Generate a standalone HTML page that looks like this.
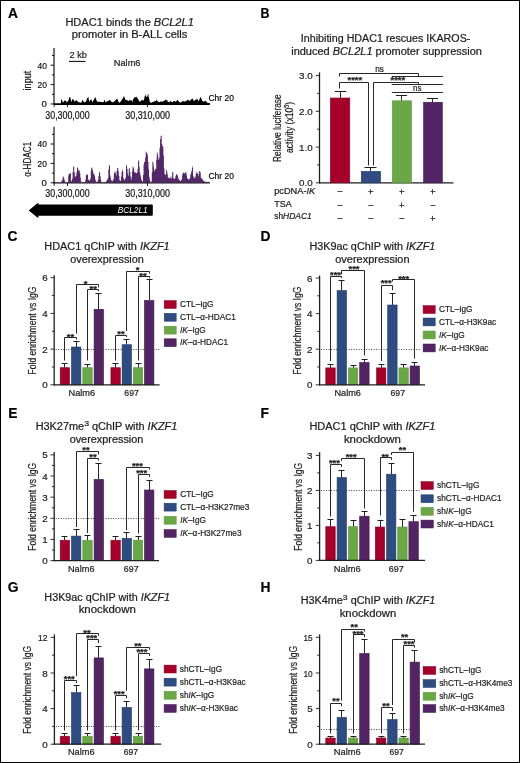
<!DOCTYPE html>
<html><head><meta charset="utf-8"><style>
html,body{margin:0;padding:0;background:#fff;}
svg{display:block;will-change:transform;}
text{font-family:"Liberation Sans", sans-serif;stroke:#1e1e1e;stroke-width:0.22px;}
text.w{stroke:none;}
</style></head><body>
<svg width="520" height="763" viewBox="0 0 520 763" font-family='"Liberation Sans", sans-serif' fill="#1e1e1e">
<rect x="0" y="0" width="520" height="763" fill="#fff"/>
<rect x="0.50" y="0.50" width="519.00" height="762.00" fill="none" stroke="#000" stroke-width="1"/>
<text x="7.90" y="18.20" font-size="13.8" font-weight="bold" fill="#000">A</text>
<text x="260.60" y="18.10" font-size="13.8" font-weight="bold" textLength="9.00" lengthAdjust="spacingAndGlyphs" fill="#000">B</text>
<text x="7.60" y="240.80" font-size="13.8" font-weight="bold" fill="#000">C</text>
<text x="260.40" y="240.80" font-size="13.8" font-weight="bold" fill="#000">D</text>
<text x="8.30" y="418.10" font-size="13.8" font-weight="bold" fill="#000">E</text>
<text x="260.40" y="418.10" font-size="13.8" font-weight="bold" fill="#000">F</text>
<text x="7.70" y="591.70" font-size="13.8" font-weight="bold" fill="#000">G</text>
<text x="260.40" y="592.20" font-size="13.8" font-weight="bold" fill="#000">H</text>
<text x="65.40" y="26.20" font-size="10" textLength="128.40" lengthAdjust="spacingAndGlyphs">HDAC1 binds the <tspan font-style="italic">BCL2L1</tspan></text>
<text x="71.80" y="38.40" font-size="10" textLength="115.60" lengthAdjust="spacingAndGlyphs">promoter in B-ALL cells</text>
<text x="300.80" y="41.50" font-size="10" textLength="169.60" lengthAdjust="spacingAndGlyphs">Inhibiting HDAC1 rescues IKAROS-</text>
<text x="291.20" y="54.70" font-size="10" textLength="190.80" lengthAdjust="spacingAndGlyphs">induced <tspan font-style="italic">BCL2L1</tspan> promoter suppression</text>
<text x="44.35" y="249.60" font-size="10" textLength="125.30" lengthAdjust="spacingAndGlyphs">HDAC1 qChIP with <tspan font-style="italic">IKZF1</tspan></text>
<text x="70.20" y="262.50" font-size="10" textLength="73.60" lengthAdjust="spacingAndGlyphs">overexpression</text>
<text x="309.45" y="249.60" font-size="10" textLength="125.90" lengthAdjust="spacingAndGlyphs">H3K9ac qChIP with <tspan font-style="italic">IKZF1</tspan></text>
<text x="335.25" y="262.50" font-size="10" textLength="74.30" lengthAdjust="spacingAndGlyphs">overexpression</text>
<text x="35.65" y="430.00" font-size="10" textLength="141.70" lengthAdjust="spacingAndGlyphs">H3K27me<tspan font-size="8" dy="-4.2">3</tspan><tspan dy="4.2"> qChIP with </tspan><tspan font-style="italic">IKZF1</tspan></text>
<text x="69.65" y="442.50" font-size="10" textLength="73.70" lengthAdjust="spacingAndGlyphs">overexpression</text>
<text x="309.45" y="430.00" font-size="10" textLength="125.90" lengthAdjust="spacingAndGlyphs">HDAC1 qChIP with <tspan font-style="italic">IKZF1</tspan></text>
<text x="343.90" y="442.50" font-size="10" textLength="57.00" lengthAdjust="spacingAndGlyphs">knockdown</text>
<text x="44.35" y="600.80" font-size="10" textLength="125.70" lengthAdjust="spacingAndGlyphs">H3K9ac qChIP with <tspan font-style="italic">IKZF1</tspan></text>
<text x="78.65" y="613.20" font-size="10" textLength="57.10" lengthAdjust="spacingAndGlyphs">knockdown</text>
<text x="300.70" y="604.40" font-size="10" textLength="134.60" lengthAdjust="spacingAndGlyphs">H3K4me<tspan font-size="8" dy="-4.2">3</tspan><tspan dy="4.2"> qChIP with </tspan><tspan font-style="italic">IKZF1</tspan></text>
<text x="339.70" y="616.70" font-size="10" textLength="56.60" lengthAdjust="spacingAndGlyphs">knockdown</text>
<path d="M60.50,104.20 L60.50,103.52 L61.00,103.52 L61.00,99.86 L61.50,99.86 L61.50,99.54 L62.00,99.54 L62.00,100.69 L62.50,100.69 L62.50,102.07 L63.00,102.07 L63.00,102.37 L63.50,102.37 L63.50,101.64 L64.00,101.64 L64.00,100.53 L64.50,100.53 L64.50,101.12 L65.00,101.12 L65.00,100.99 L65.50,100.99 L65.50,100.31 L66.00,100.31 L66.00,101.44 L66.50,101.44 L66.50,102.26 L67.00,102.26 L67.00,101.73 L67.50,101.73 L67.50,101.35 L68.00,101.35 L68.00,100.63 L68.50,100.63 L68.50,99.44 L69.00,99.44 L69.00,97.51 L69.50,97.51 L69.50,97.23 L70.00,97.23 L70.00,97.59 L70.50,97.59 L70.50,99.51 L71.00,99.51 L71.00,101.69 L71.50,101.69 L71.50,100.74 L72.00,100.74 L72.00,99.40 L72.50,99.40 L72.50,99.19 L73.00,99.19 L73.00,99.14 L73.50,99.14 L73.50,100.30 L74.00,100.30 L74.00,101.01 L74.50,101.01 L74.50,101.61 L75.00,101.61 L75.00,101.10 L75.50,101.10 L75.50,100.42 L76.00,100.42 L76.00,100.49 L76.50,100.49 L76.50,100.15 L77.00,100.15 L77.00,100.90 L77.50,100.90 L77.50,101.44 L78.00,101.44 L78.00,102.17 L78.50,102.17 L78.50,102.27 L79.00,102.27 L79.00,102.14 L79.50,102.14 L79.50,102.27 L80.00,102.27 L80.00,102.40 L80.50,102.40 L80.50,102.70 L81.00,102.70 L81.00,102.66 L81.50,102.66 L81.50,101.87 L82.00,101.87 L82.00,99.90 L82.50,99.90 L82.50,100.48 L83.00,100.48 L83.00,101.10 L83.50,101.10 L83.50,101.72 L84.00,101.72 L84.00,102.36 L84.50,102.36 L84.50,102.16 L85.00,102.16 L85.00,102.07 L85.50,102.07 L85.50,101.80 L86.00,101.80 L86.00,100.77 L86.50,100.77 L86.50,99.47 L87.00,99.47 L87.00,98.36 L87.50,98.36 L87.50,97.77 L88.00,97.77 L88.00,97.06 L88.50,97.06 L88.50,99.22 L89.00,99.22 L89.00,101.81 L89.50,101.81 L89.50,100.96 L90.00,100.96 L90.00,99.89 L90.50,99.89 L90.50,99.82 L91.00,99.82 L91.00,99.58 L91.50,99.58 L91.50,100.58 L92.00,100.58 L92.00,101.45 L92.50,101.45 L92.50,102.15 L93.00,102.15 L93.00,100.73 L93.50,100.73 L93.50,99.96 L94.00,99.96 L94.00,99.29 L94.50,99.29 L94.50,97.50 L95.00,97.50 L95.00,97.18 L95.50,97.18 L95.50,98.39 L96.00,98.39 L96.00,99.87 L96.50,99.87 L96.50,100.84 L97.00,100.84 L97.00,101.81 L97.50,101.81 L97.50,101.85 L98.00,101.85 L98.00,101.52 L98.50,101.52 L98.50,101.79 L99.00,101.79 L99.00,101.63 L99.50,101.63 L99.50,101.95 L100.00,101.95 L100.00,101.86 L100.50,101.86 L100.50,102.12 L101.00,102.12 L101.00,102.15 L101.50,102.15 L101.50,101.98 L102.00,101.98 L102.00,102.16 L102.50,102.16 L102.50,101.91 L103.00,101.91 L103.00,101.83 L103.50,101.83 L103.50,102.02 L104.00,102.02 L104.00,100.34 L104.50,100.34 L104.50,100.34 L105.00,100.34 L105.00,101.81 L105.50,101.81 L105.50,101.94 L106.00,101.94 L106.00,101.67 L106.50,101.67 L106.50,101.53 L107.00,101.53 L107.00,101.56 L107.50,101.56 L107.50,100.95 L108.00,100.95 L108.00,100.96 L108.50,100.96 L108.50,100.60 L109.00,100.60 L109.00,99.94 L109.50,99.94 L109.50,100.06 L110.00,100.06 L110.00,100.56 L110.50,100.56 L110.50,101.08 L111.00,101.08 L111.00,101.51 L111.50,101.51 L111.50,101.96 L112.00,101.96 L112.00,102.37 L112.50,102.37 L112.50,102.28 L113.00,102.28 L113.00,101.93 L113.50,101.93 L113.50,101.70 L114.00,101.70 L114.00,101.47 L114.50,101.47 L114.50,100.86 L115.00,100.86 L115.00,100.51 L115.50,100.51 L115.50,100.26 L116.00,100.26 L116.00,99.22 L116.50,99.22 L116.50,98.97 L117.00,98.97 L117.00,98.71 L117.50,98.71 L117.50,99.92 L118.00,99.92 L118.00,101.55 L118.50,101.55 L118.50,101.99 L119.00,101.99 L119.00,102.43 L119.50,102.43 L119.50,102.68 L120.00,102.68 L120.00,102.05 L120.50,102.05 L120.50,101.49 L121.00,101.49 L121.00,100.66 L121.50,100.66 L121.50,100.05 L122.00,100.05 L122.00,98.95 L122.50,98.95 L122.50,98.41 L123.00,98.41 L123.00,97.60 L123.50,97.60 L123.50,96.53 L124.00,96.53 L124.00,96.57 L124.50,96.57 L124.50,98.04 L125.00,98.04 L125.00,99.78 L125.50,99.78 L125.50,99.47 L126.00,99.47 L126.00,99.72 L126.50,99.72 L126.50,99.91 L127.00,99.91 L127.00,100.15 L127.50,100.15 L127.50,100.65 L128.00,100.65 L128.00,101.10 L128.50,101.10 L128.50,100.92 L129.00,100.92 L129.00,100.55 L129.50,100.55 L129.50,99.86 L130.00,99.86 L130.00,99.93 L130.50,99.93 L130.50,100.42 L131.00,100.42 L131.00,100.19 L131.50,100.19 L131.50,101.12 L132.00,101.12 L132.00,101.93 L132.50,101.93 L132.50,100.29 L133.00,100.29 L133.00,98.74 L133.50,98.74 L133.50,98.68 L134.00,98.68 L134.00,97.63 L134.50,97.63 L134.50,97.06 L135.00,97.06 L135.00,97.20 L135.50,97.20 L135.50,97.42 L136.00,97.42 L136.00,96.65 L136.50,96.65 L136.50,97.20 L137.00,97.20 L137.00,97.69 L137.50,97.69 L137.50,98.77 L138.00,98.77 L138.00,99.14 L138.50,99.14 L138.50,100.23 L139.00,100.23 L139.00,101.16 L139.50,101.16 L139.50,101.68 L140.00,101.68 L140.00,101.36 L140.50,101.36 L140.50,101.03 L141.00,101.03 L141.00,100.41 L141.50,100.41 L141.50,99.95 L142.00,99.95 L142.00,99.64 L142.50,99.64 L142.50,100.43 L143.00,100.43 L143.00,100.75 L143.50,100.75 L143.50,99.97 L144.00,99.97 L144.00,98.72 L144.50,98.72 L144.50,96.21 L145.00,96.21 L145.00,94.35 L145.50,94.35 L145.50,96.21 L146.00,96.21 L146.00,96.59 L146.50,96.59 L146.50,96.95 L147.00,96.95 L147.00,96.40 L147.50,96.40 L147.50,94.93 L148.00,94.93 L148.00,93.99 L148.50,93.99 L148.50,96.97 L149.00,96.97 L149.00,99.03 L149.50,99.03 L149.50,101.67 L150.00,101.67 L150.00,102.23 L150.50,102.23 L150.50,102.54 L151.00,102.54 L151.00,102.64 L151.50,102.64 L151.50,102.65 L152.00,102.65 L152.00,102.31 L152.50,102.31 L152.50,101.97 L153.00,101.97 L153.00,101.89 L153.50,101.89 L153.50,101.50 L154.00,101.50 L154.00,101.46 L154.50,101.46 L154.50,101.10 L155.00,101.10 L155.00,101.26 L155.50,101.26 L155.50,101.06 L156.00,101.06 L156.00,100.19 L156.50,100.19 L156.50,100.07 L157.00,100.07 L157.00,100.81 L157.50,100.81 L157.50,101.52 L158.00,101.52 L158.00,101.85 L158.50,101.85 L158.50,101.97 L159.00,101.97 L159.00,102.20 L159.50,102.20 L159.50,102.09 L160.00,102.09 L160.00,101.68 L160.50,101.68 L160.50,101.54 L161.00,101.54 L161.00,101.30 L161.50,101.30 L161.50,101.65 L162.00,101.65 L162.00,101.45 L162.50,101.45 L162.50,101.70 L163.00,101.70 L163.00,101.28 L163.50,101.28 L163.50,101.07 L164.00,101.07 L164.00,100.76 L164.50,100.76 L164.50,100.53 L165.00,100.53 L165.00,100.08 L165.50,100.08 L165.50,99.55 L166.00,99.55 L166.00,100.17 L166.50,100.17 L166.50,99.90 L167.00,99.90 L167.00,100.22 L167.50,100.22 L167.50,101.67 L168.00,101.67 L168.00,101.99 L168.50,101.99 L168.50,101.95 L169.00,101.95 L169.00,102.14 L169.50,102.14 L169.50,101.83 L170.00,101.83 L170.00,101.33 L170.50,101.33 L170.50,100.97 L171.00,100.97 L171.00,101.63 L171.50,101.63 L171.50,101.84 L172.00,101.84 L172.00,102.31 L172.50,102.31 L172.50,101.88 L173.00,101.88 L173.00,101.46 L173.50,101.46 L173.50,101.25 L174.00,101.25 L174.00,101.27 L174.50,101.27 L174.50,101.07 L175.00,101.07 L175.00,101.48 L175.50,101.48 L175.50,101.52 L176.00,101.52 L176.00,101.13 L176.50,101.13 L176.50,100.80 L177.00,100.80 L177.00,99.95 L177.50,99.95 L177.50,100.11 L178.00,100.11 L178.00,100.99 L178.50,100.99 L178.50,101.37 L179.00,101.37 L179.00,101.88 L179.50,101.88 L179.50,102.14 L180.00,102.14 L180.00,102.46 L180.50,102.46 L180.50,102.49 L181.00,102.49 L181.00,102.13 L181.50,102.13 L181.50,101.87 L182.00,101.87 L182.00,101.20 L182.50,101.20 L182.50,101.22 L183.00,101.22 L183.00,101.26 L183.50,101.26 L183.50,101.26 L184.00,101.26 L184.00,101.23 L184.50,101.23 L184.50,101.64 L185.00,101.64 L185.00,101.58 L185.50,101.58 L185.50,101.07 L186.00,101.07 L186.00,100.95 L186.50,100.95 L186.50,100.52 L187.00,100.52 L187.00,100.19 L187.50,100.19 L187.50,99.89 L188.00,99.89 L188.00,99.78 L188.50,99.78 L188.50,100.13 L189.00,100.13 L189.00,100.71 L189.50,100.71 L189.50,101.21 L190.00,101.21 L190.00,100.56 L190.50,100.56 L190.50,99.71 L191.00,99.71 L191.00,99.32 L191.50,99.32 L191.50,99.23 L192.00,99.23 L192.00,98.76 L192.50,98.76 L192.50,98.68 L193.00,98.68 L193.00,99.78 L193.50,99.78 L193.50,100.89 L194.00,100.89 L194.00,100.72 L194.50,100.72 L194.50,100.41 L195.00,100.41 L195.00,99.71 L195.50,99.71 L195.50,99.76 L196.00,99.76 L196.00,99.53 L196.50,99.53 L196.50,99.29 L197.00,99.29 L197.00,99.15 L197.50,99.15 L197.50,99.56 L198.00,99.56 L198.00,100.40 L198.50,100.40 L198.50,100.94 L199.00,100.94 L199.00,100.05 L199.50,100.05 L199.50,98.62 L200.00,98.62 L200.00,97.11 L200.50,97.11 L200.50,97.80 L201.00,97.80 L201.00,98.50 L201.50,98.50 L201.50,99.58 L202.00,99.58 L202.00,101.04 L202.50,101.04 L202.50,101.11 L203.00,101.11 L203.00,101.41 L203.50,101.41 L203.50,101.50 L204.00,101.50 L204.00,101.32 L204.50,101.32 L204.50,101.52 L205.00,101.52 L205.00,101.17 L205.50,101.17 L205.50,100.58 L206.00,100.58 L206.00,101.40 L206.50,101.40 L206.50,102.10 L207.00,102.10 L207.00,102.76 L207.50,102.76 L207.50,102.83 L208.00,102.83 L208.00,102.98 L208.50,102.98 L208.50,103.05 L209.00,103.05 L209.00,103.03 L209.50,103.03 L209.50,104.20 Z" stroke="none" stroke-width="0" fill="#000" />
<line x1="53.90" y1="104.10" x2="209.80" y2="104.10" stroke="#000" stroke-width="1.6" />
<path d="M60.50,182.60 L60.50,182.40 L61.05,182.40 L61.05,181.76 L61.60,181.76 L61.60,180.86 L62.15,180.86 L62.15,179.41 L62.70,179.41 L62.70,177.05 L63.25,177.05 L63.25,176.32 L63.80,176.32 L63.80,178.44 L64.35,178.44 L64.35,180.17 L64.90,180.17 L64.90,182.18 L65.45,182.18 L65.45,182.34 L66.00,182.34 L66.00,182.37 L66.55,182.37 L66.55,182.41 L67.10,182.41 L67.10,182.45 L67.65,182.45 L67.65,182.49 L68.20,182.49 L68.20,175.53 L68.75,175.53 L68.75,173.46 L69.30,173.46 L69.30,174.10 L69.85,174.10 L69.85,173.30 L70.40,173.30 L70.40,173.13 L70.95,173.13 L70.95,181.57 L71.50,181.57 L71.50,180.57 L72.05,180.57 L72.05,178.71 L72.60,178.71 L72.60,172.01 L73.15,172.01 L73.15,166.41 L73.70,166.41 L73.70,166.66 L74.25,166.66 L74.25,172.45 L74.80,172.45 L74.80,176.46 L75.35,176.46 L75.35,176.66 L75.90,176.66 L75.90,175.38 L76.45,175.38 L76.45,171.95 L77.00,171.95 L77.00,167.93 L77.55,167.93 L77.55,167.18 L78.10,167.18 L78.10,170.03 L78.65,170.03 L78.65,170.70 L79.20,170.70 L79.20,170.36 L79.75,170.36 L79.75,172.91 L80.30,172.91 L80.30,177.62 L80.85,177.62 L80.85,181.51 L81.40,181.51 L81.40,182.13 L81.95,182.13 L81.95,182.30 L82.50,182.30 L82.50,182.29 L83.05,182.29 L83.05,182.28 L83.60,182.28 L83.60,182.27 L84.15,182.27 L84.15,182.24 L84.70,182.24 L84.70,182.22 L85.25,182.22 L85.25,179.90 L85.80,179.90 L85.80,175.54 L86.35,175.54 L86.35,174.62 L86.90,174.62 L86.90,174.28 L87.45,174.28 L87.45,174.91 L88.00,174.91 L88.00,179.13 L88.55,179.13 L88.55,180.07 L89.10,180.07 L89.10,180.75 L89.65,180.75 L89.65,179.89 L90.20,179.89 L90.20,178.43 L90.75,178.43 L90.75,170.75 L91.30,170.75 L91.30,167.80 L91.85,167.80 L91.85,167.50 L92.40,167.50 L92.40,169.64 L92.95,169.64 L92.95,172.60 L93.50,172.60 L93.50,173.95 L94.05,173.95 L94.05,174.38 L94.60,174.38 L94.60,176.19 L95.15,176.19 L95.15,179.52 L95.70,179.52 L95.70,181.33 L96.25,181.33 L96.25,181.96 L96.80,181.96 L96.80,182.39 L97.35,182.39 L97.35,181.18 L97.90,181.18 L97.90,179.57 L98.45,179.57 L98.45,175.73 L99.00,175.73 L99.00,172.55 L99.55,172.55 L99.55,171.85 L100.10,171.85 L100.10,176.25 L100.65,176.25 L100.65,179.77 L101.20,179.77 L101.20,182.13 L101.75,182.13 L101.75,182.23 L102.30,182.23 L102.30,182.25 L102.85,182.25 L102.85,182.21 L103.40,182.21 L103.40,182.23 L103.95,182.23 L103.95,182.22 L104.50,182.22 L104.50,182.24 L105.05,182.24 L105.05,182.23 L105.60,182.23 L105.60,182.21 L106.15,182.21 L106.15,181.05 L106.70,181.05 L106.70,180.08 L107.25,180.08 L107.25,179.42 L107.80,179.42 L107.80,177.67 L108.35,177.67 L108.35,169.60 L108.90,169.60 L108.90,165.38 L109.45,165.38 L109.45,165.30 L110.00,165.30 L110.00,175.58 L110.55,175.58 L110.55,178.49 L111.10,178.49 L111.10,180.50 L111.65,180.50 L111.65,180.77 L112.20,180.77 L112.20,181.21 L112.75,181.21 L112.75,180.20 L113.30,180.20 L113.30,178.97 L113.85,178.97 L113.85,173.38 L114.40,173.38 L114.40,171.96 L114.95,171.96 L114.95,171.53 L115.50,171.53 L115.50,173.48 L116.05,173.48 L116.05,175.54 L116.60,175.54 L116.60,170.45 L117.15,170.45 L117.15,167.92 L117.70,167.92 L117.70,168.36 L118.25,168.36 L118.25,171.49 L118.80,171.49 L118.80,176.00 L119.35,176.00 L119.35,180.15 L119.90,180.15 L119.90,180.64 L120.45,180.64 L120.45,180.74 L121.00,180.74 L121.00,176.55 L121.55,176.55 L121.55,172.02 L122.10,172.02 L122.10,169.59 L122.65,169.59 L122.65,171.24 L123.20,171.24 L123.20,178.03 L123.75,178.03 L123.75,179.31 L124.30,179.31 L124.30,180.39 L124.85,180.39 L124.85,178.99 L125.40,178.99 L125.40,177.58 L125.95,177.58 L125.95,164.76 L126.50,164.76 L126.50,166.11 L127.05,166.11 L127.05,169.11 L127.60,169.11 L127.60,173.83 L128.15,173.83 L128.15,175.75 L128.70,175.75 L128.70,168.55 L129.25,168.55 L129.25,168.26 L129.80,168.26 L129.80,171.97 L130.35,171.97 L130.35,176.39 L130.90,176.39 L130.90,180.10 L131.45,180.10 L131.45,176.91 L132.00,176.91 L132.00,171.30 L132.55,171.30 L132.55,166.39 L133.10,166.39 L133.10,167.20 L133.65,167.20 L133.65,168.46 L134.20,168.46 L134.20,172.62 L134.75,172.62 L134.75,171.95 L135.30,171.95 L135.30,172.51 L135.85,172.51 L135.85,173.60 L136.40,173.60 L136.40,173.04 L136.95,173.04 L136.95,172.23 L137.50,172.23 L137.50,168.66 L138.05,168.66 L138.05,160.08 L138.60,160.08 L138.60,161.43 L139.15,161.43 L139.15,166.87 L139.70,166.87 L139.70,172.42 L140.25,172.42 L140.25,175.32 L140.80,175.32 L140.80,177.72 L141.35,177.72 L141.35,180.01 L141.90,180.01 L141.90,181.09 L142.45,181.09 L142.45,181.79 L143.00,181.79 L143.00,174.96 L143.55,174.96 L143.55,164.51 L144.10,164.51 L144.10,161.95 L144.65,161.95 L144.65,161.52 L145.20,161.52 L145.20,157.61 L145.75,157.61 L145.75,151.55 L146.30,151.55 L146.30,152.59 L146.85,152.59 L146.85,153.23 L147.40,153.23 L147.40,155.22 L147.95,155.22 L147.95,161.69 L148.50,161.69 L148.50,169.26 L149.05,169.26 L149.05,176.83 L149.60,176.83 L149.60,179.47 L150.15,179.47 L150.15,181.70 L150.70,181.70 L150.70,181.78 L151.25,181.78 L151.25,181.84 L151.80,181.84 L151.80,172.15 L152.35,172.15 L152.35,161.69 L152.90,161.69 L152.90,162.42 L153.45,162.42 L153.45,166.59 L154.00,166.59 L154.00,170.84 L154.55,170.84 L154.55,170.45 L155.10,170.45 L155.10,168.68 L155.65,168.68 L155.65,169.21 L156.20,169.21 L156.20,159.63 L156.75,159.63 L156.75,153.82 L157.30,153.82 L157.30,152.56 L157.85,152.56 L157.85,156.56 L158.40,156.56 L158.40,160.10 L158.95,160.10 L158.95,158.31 L159.50,158.31 L159.50,148.27 L160.05,148.27 L160.05,139.00 L160.60,139.00 L160.60,135.89 L161.15,135.89 L161.15,135.51 L161.70,135.51 L161.70,143.98 L162.25,143.98 L162.25,145.93 L162.80,145.93 L162.80,146.66 L163.35,146.66 L163.35,155.57 L163.90,155.57 L163.90,168.26 L164.45,168.26 L164.45,173.84 L165.00,173.84 L165.00,175.02 L165.55,175.02 L165.55,174.48 L166.10,174.48 L166.10,169.26 L166.65,169.26 L166.65,170.95 L167.20,170.95 L167.20,173.82 L167.75,173.82 L167.75,177.53 L168.30,177.53 L168.30,177.75 L168.85,177.75 L168.85,178.23 L169.40,178.23 L169.40,178.15 L169.95,178.15 L169.95,176.94 L170.50,176.94 L170.50,178.07 L171.05,178.07 L171.05,178.83 L171.60,178.83 L171.60,176.38 L172.15,176.38 L172.15,172.04 L172.70,172.04 L172.70,172.25 L173.25,172.25 L173.25,178.17 L173.80,178.17 L173.80,178.55 L174.35,178.55 L174.35,179.23 L174.90,179.23 L174.90,178.12 L175.45,178.12 L175.45,175.91 L176.00,175.91 L176.00,174.62 L176.55,174.62 L176.55,174.14 L177.10,174.14 L177.10,174.84 L177.65,174.84 L177.65,176.14 L178.20,176.14 L178.20,178.40 L178.75,178.40 L178.75,179.46 L179.30,179.46 L179.30,180.10 L179.85,180.10 L179.85,180.66 L180.40,180.66 L180.40,180.92 L180.95,180.92 L180.95,180.13 L181.50,180.13 L181.50,179.28 L182.05,179.28 L182.05,175.37 L182.60,175.37 L182.60,172.98 L183.15,172.98 L183.15,172.67 L183.70,172.67 L183.70,172.55 L184.25,172.55 L184.25,173.67 L184.80,173.67 L184.80,172.73 L185.35,172.73 L185.35,172.76 L185.90,172.76 L185.90,172.01 L186.45,172.01 L186.45,175.17 L187.00,175.17 L187.00,177.98 L187.55,177.98 L187.55,178.63 L188.10,178.63 L188.10,179.40 L188.65,179.40 L188.65,179.30 L189.20,179.30 L189.20,179.13 L189.75,179.13 L189.75,177.68 L190.30,177.68 L190.30,174.43 L190.85,174.43 L190.85,172.65 L191.40,172.65 L191.40,170.69 L191.95,170.69 L191.95,166.12 L192.50,166.12 L192.50,167.97 L193.05,167.97 L193.05,175.83 L193.60,175.83 L193.60,177.46 L194.15,177.46 L194.15,178.16 L194.70,178.16 L194.70,177.72 L195.25,177.72 L195.25,176.49 L195.80,176.49 L195.80,173.52 L196.35,173.52 L196.35,171.66 L196.90,171.66 L196.90,172.44 L197.45,172.44 L197.45,173.79 L198.00,173.79 L198.00,176.22 L198.55,176.22 L198.55,173.40 L199.10,173.40 L199.10,170.99 L199.65,170.99 L199.65,171.11 L200.20,171.11 L200.20,172.65 L200.75,172.65 L200.75,177.99 L201.30,177.99 L201.30,178.36 L201.85,178.36 L201.85,178.57 L202.40,178.57 L202.40,179.64 L202.95,179.64 L202.95,180.53 L203.50,180.53 L203.50,180.87 L204.05,180.87 L204.05,181.25 L204.60,181.25 L204.60,181.55 L205.15,181.55 L205.15,181.68 L205.70,181.68 L205.70,181.88 L206.25,181.88 L206.25,181.87 L206.80,181.87 L206.80,181.81 L207.35,181.81 L207.35,181.88 L207.90,181.88 L207.90,181.86 L208.45,181.86 L208.45,181.89 L209.00,181.89 L209.00,181.87 L209.55,181.87 L209.50,182.60 Z" stroke="none" stroke-width="0" fill="#532768" />
<line x1="53.90" y1="182.80" x2="209.80" y2="182.80" stroke="#1a0f1f" stroke-width="1.3" />
<line x1="54.00" y1="48.00" x2="54.00" y2="104.60" stroke="#000" stroke-width="1.1" />
<line x1="50.60" y1="104.00" x2="54.00" y2="104.00" stroke="#000" stroke-width="0.9" />
<line x1="52.00" y1="94.30" x2="54.00" y2="94.30" stroke="#000" stroke-width="0.9" />
<line x1="50.60" y1="84.60" x2="54.00" y2="84.60" stroke="#000" stroke-width="0.9" />
<line x1="52.00" y1="74.90" x2="54.00" y2="74.90" stroke="#000" stroke-width="0.9" />
<line x1="50.60" y1="65.20" x2="54.00" y2="65.20" stroke="#000" stroke-width="0.9" />
<line x1="52.00" y1="55.50" x2="54.00" y2="55.50" stroke="#000" stroke-width="0.9" />
<text x="46.90" y="107.40" font-size="9.6" text-anchor="end" fill="#111">0</text>
<text x="37.50" y="88.00" font-size="9.6" textLength="9.40" lengthAdjust="spacingAndGlyphs" fill="#111">20</text>
<text x="37.50" y="68.60" font-size="9.6" textLength="9.40" lengthAdjust="spacingAndGlyphs" fill="#111">40</text>
<line x1="54.20" y1="104.00" x2="54.20" y2="107.20" stroke="#000" stroke-width="0.8" />
<line x1="67.50" y1="104.00" x2="67.50" y2="107.20" stroke="#000" stroke-width="0.8" />
<line x1="147.50" y1="104.00" x2="147.50" y2="107.20" stroke="#000" stroke-width="0.8" />
<text x="208.50" y="100.80" font-size="9.1" textLength="25.40" lengthAdjust="spacingAndGlyphs" fill="#000">Chr 20</text>
<text x="45.30" y="118.60" font-size="10.0" textLength="44.30" lengthAdjust="spacingAndGlyphs" fill="#111">30,300,000</text>
<text x="125.20" y="118.60" font-size="10.0" textLength="44.80" lengthAdjust="spacingAndGlyphs" fill="#111">30,310,000</text>
<line x1="54.00" y1="126.80" x2="54.00" y2="183.40" stroke="#000" stroke-width="1.1" />
<line x1="50.60" y1="182.80" x2="54.00" y2="182.80" stroke="#000" stroke-width="0.9" />
<line x1="52.00" y1="173.10" x2="54.00" y2="173.10" stroke="#000" stroke-width="0.9" />
<line x1="50.60" y1="163.40" x2="54.00" y2="163.40" stroke="#000" stroke-width="0.9" />
<line x1="52.00" y1="153.70" x2="54.00" y2="153.70" stroke="#000" stroke-width="0.9" />
<line x1="50.60" y1="144.00" x2="54.00" y2="144.00" stroke="#000" stroke-width="0.9" />
<line x1="52.00" y1="134.30" x2="54.00" y2="134.30" stroke="#000" stroke-width="0.9" />
<text x="46.90" y="186.20" font-size="9.6" text-anchor="end" fill="#111">0</text>
<text x="37.50" y="166.80" font-size="9.6" textLength="9.40" lengthAdjust="spacingAndGlyphs" fill="#111">20</text>
<text x="37.50" y="147.40" font-size="9.6" textLength="9.40" lengthAdjust="spacingAndGlyphs" fill="#111">40</text>
<line x1="54.20" y1="182.80" x2="54.20" y2="186.00" stroke="#000" stroke-width="0.8" />
<line x1="67.50" y1="182.80" x2="67.50" y2="186.00" stroke="#000" stroke-width="0.8" />
<line x1="147.50" y1="182.80" x2="147.50" y2="186.00" stroke="#000" stroke-width="0.8" />
<text x="208.50" y="178.50" font-size="9.1" textLength="25.40" lengthAdjust="spacingAndGlyphs" fill="#000">Chr 20</text>
<text x="45.30" y="197.40" font-size="10.0" textLength="44.30" lengthAdjust="spacingAndGlyphs" fill="#111">30,300,000</text>
<text x="125.20" y="197.40" font-size="10.0" textLength="44.80" lengthAdjust="spacingAndGlyphs" fill="#111">30,310,000</text>
<text x="30.70" y="80.60" font-size="10" text-anchor="middle" textLength="19.60" lengthAdjust="spacingAndGlyphs" fill="#222" transform="rotate(-90 30.70 80.60)">input</text>
<text x="31.30" y="159.30" font-size="10.8" text-anchor="middle" textLength="35.00" lengthAdjust="spacingAndGlyphs" fill="#222" transform="rotate(-90 31.30 159.30)">&#945;-HDAC1</text>
<text x="69.60" y="58.30" font-size="9.0" textLength="17.30" lengthAdjust="spacingAndGlyphs">2 kb</text>
<line x1="69.00" y1="61.40" x2="85.40" y2="61.40" stroke="#000" stroke-width="1.0" />
<text x="113.80" y="65.80" font-size="9.0" textLength="26.70" lengthAdjust="spacingAndGlyphs">Nalm6</text>
<path d="M28.7,210.4 L37.4,203.3 Q38.4,202.6 38.4,203.8 L38.4,204.6 L151.8,204.6 Q152.8,204.6 152.8,205.6 L152.8,214.8 Q152.8,215.8 151.8,215.8 L38.4,215.8 L38.4,217.0 Q38.4,218.2 37.4,217.5 Z" stroke="none" stroke-width="0" fill="#000" />
<text class="w" x="117.70" y="212.80" font-size="9.0" font-style="italic" textLength="30.00" lengthAdjust="spacingAndGlyphs" fill="#fff">BCL2L1</text>
<line x1="319.50" y1="72.40" x2="319.50" y2="183.40" stroke="#1e1e1e" stroke-width="1.3" />
<line x1="315.70" y1="182.80" x2="319.50" y2="182.80" stroke="#1e1e1e" stroke-width="0.9" />
<text x="312.60" y="186.30" font-size="9.8" text-anchor="end">0.0</text>
<line x1="315.70" y1="147.05" x2="319.50" y2="147.05" stroke="#1e1e1e" stroke-width="0.9" />
<text x="312.60" y="150.55" font-size="9.8" text-anchor="end">1.0</text>
<line x1="315.70" y1="111.30" x2="319.50" y2="111.30" stroke="#1e1e1e" stroke-width="0.9" />
<text x="312.60" y="114.80" font-size="9.8" text-anchor="end">2.0</text>
<line x1="315.70" y1="75.55" x2="319.50" y2="75.55" stroke="#1e1e1e" stroke-width="0.9" />
<text x="312.60" y="79.05" font-size="9.8" text-anchor="end">3.0</text>
<line x1="317.10" y1="164.93" x2="319.50" y2="164.93" stroke="#1e1e1e" stroke-width="0.9" />
<line x1="317.10" y1="129.18" x2="319.50" y2="129.18" stroke="#1e1e1e" stroke-width="0.9" />
<line x1="317.10" y1="93.43" x2="319.50" y2="93.43" stroke="#1e1e1e" stroke-width="0.9" />
<line x1="319.00" y1="182.80" x2="453.50" y2="182.80" stroke="#1e1e1e" stroke-width="1.3" />
<line x1="340.50" y1="98.00" x2="340.50" y2="91.80" stroke="#1e1e1e" stroke-width="0.95" />
<line x1="334.75" y1="91.50" x2="346.25" y2="91.50" stroke="#1e1e1e" stroke-width="1.0" />
<rect x="330.30" y="98.00" width="19.50" height="84.80" fill="#a5002b" stroke="#8e0026" stroke-width="0.6"/>
<line x1="370.50" y1="171.40" x2="370.50" y2="167.00" stroke="#1e1e1e" stroke-width="0.95" />
<line x1="364.50" y1="167.50" x2="376.50" y2="167.50" stroke="#1e1e1e" stroke-width="1.0" />
<rect x="361.30" y="171.40" width="19.30" height="11.40" fill="#2e4c7f" stroke="#1f3a70" stroke-width="0.6"/>
<line x1="401.50" y1="100.80" x2="401.50" y2="95.00" stroke="#1e1e1e" stroke-width="0.95" />
<line x1="395.90" y1="95.50" x2="407.10" y2="95.50" stroke="#1e1e1e" stroke-width="1.0" />
<rect x="392.30" y="100.80" width="19.20" height="82.00" fill="#6ba746" stroke="#5a9a37" stroke-width="0.6"/>
<line x1="432.50" y1="102.30" x2="432.50" y2="98.80" stroke="#1e1e1e" stroke-width="0.95" />
<line x1="427.00" y1="98.50" x2="438.00" y2="98.50" stroke="#1e1e1e" stroke-width="1.0" />
<rect x="423.60" y="102.30" width="18.70" height="80.50" fill="#532463" stroke="#40164f" stroke-width="0.6"/>
<path d="M339.5,76.5 L339.5,73.5 L418.5,73.5 L418.5,76.5" stroke="#1e1e1e" stroke-width="0.95" fill="none" />
<text x="379.60" y="72.00" font-size="8.6" text-anchor="middle" textLength="8.60" lengthAdjust="spacingAndGlyphs">ns</text>
<line x1="391.80" y1="76.50" x2="443.00" y2="76.50" stroke="#1e1e1e" stroke-width="0.95" />
<path d="M339.5,88.5 L339.5,82.5 L368.5,82.5 L368.5,165.5" stroke="#1e1e1e" stroke-width="0.95" fill="none" />
<path d="M373.5,165.5 L373.5,82.5 L418.5,82.5 L418.5,84.6" stroke="#1e1e1e" stroke-width="0.95" fill="none" />
<line x1="391.80" y1="84.50" x2="443.00" y2="84.50" stroke="#1e1e1e" stroke-width="0.95" />
<line x1="391.80" y1="92.50" x2="443.00" y2="92.50" stroke="#1e1e1e" stroke-width="0.95" />
<text x="417.20" y="90.60" font-size="8.6" text-anchor="middle" textLength="8.40" lengthAdjust="spacingAndGlyphs">ns</text>
<text x="281.40" y="128.20" font-size="11.8" text-anchor="middle" textLength="67.40" lengthAdjust="spacingAndGlyphs" transform="rotate(-90 281.40 128.20)">Relative luciferase</text>
<text x="292.90" y="127.40" font-size="11.8" text-anchor="middle" textLength="51.30" lengthAdjust="spacingAndGlyphs" transform="rotate(-90 292.90 127.40)">activity (x10<tspan font-size="7.5" dy="-4">5</tspan><tspan dy="4">)</tspan></text>
<text x="274.20" y="193.80" font-size="8.7" textLength="41.00" lengthAdjust="spacingAndGlyphs">pcDNA-<tspan font-style="italic">IK</tspan></text>
<text x="274.20" y="206.60" font-size="8.7" textLength="17.50" lengthAdjust="spacingAndGlyphs">TSA</text>
<text x="274.20" y="219.40" font-size="8.7" textLength="37.50" lengthAdjust="spacingAndGlyphs">sh<tspan font-style="italic">HDAC1</tspan></text>
<line x1="337.60" y1="191.50" x2="342.60" y2="191.50" stroke="#333" stroke-width="0.9" />
<line x1="368.40" y1="191.50" x2="373.40" y2="191.50" stroke="#333" stroke-width="0.9" />
<line x1="370.50" y1="189.20" x2="370.50" y2="194.20" stroke="#333" stroke-width="0.9" />
<line x1="399.40" y1="191.50" x2="404.40" y2="191.50" stroke="#333" stroke-width="0.9" />
<line x1="401.50" y1="189.20" x2="401.50" y2="194.20" stroke="#333" stroke-width="0.9" />
<line x1="430.40" y1="191.50" x2="435.40" y2="191.50" stroke="#333" stroke-width="0.9" />
<line x1="432.50" y1="189.20" x2="432.50" y2="194.20" stroke="#333" stroke-width="0.9" />
<line x1="337.60" y1="205.50" x2="342.60" y2="205.50" stroke="#333" stroke-width="0.9" />
<line x1="368.40" y1="205.50" x2="373.40" y2="205.50" stroke="#333" stroke-width="0.9" />
<line x1="399.40" y1="205.50" x2="404.40" y2="205.50" stroke="#333" stroke-width="0.9" />
<line x1="401.50" y1="202.50" x2="401.50" y2="207.50" stroke="#333" stroke-width="0.9" />
<line x1="430.40" y1="205.50" x2="435.40" y2="205.50" stroke="#333" stroke-width="0.9" />
<line x1="337.60" y1="218.50" x2="342.60" y2="218.50" stroke="#333" stroke-width="0.9" />
<line x1="368.40" y1="218.50" x2="373.40" y2="218.50" stroke="#333" stroke-width="0.9" />
<line x1="399.40" y1="218.50" x2="404.40" y2="218.50" stroke="#333" stroke-width="0.9" />
<line x1="430.40" y1="218.50" x2="435.40" y2="218.50" stroke="#333" stroke-width="0.9" />
<line x1="432.50" y1="215.90" x2="432.50" y2="220.90" stroke="#333" stroke-width="0.9" />
<text x="354.80" y="83.26" font-size="8.2" text-anchor="middle" font-weight="bold" textLength="14.60" lengthAdjust="spacingAndGlyphs">****</text>
<text x="397.80" y="83.26" font-size="8.2" text-anchor="middle" font-weight="bold" textLength="14.60" lengthAdjust="spacingAndGlyphs">****</text>
<line x1="55.70" y1="349.50" x2="159.50" y2="349.50" stroke="#444" stroke-width="1.0" stroke-dasharray="1.0 1.5"/>
<line x1="64.50" y1="367.70" x2="64.50" y2="363.80" stroke="#1e1e1e" stroke-width="0.95" />
<line x1="61.50" y1="363.50" x2="67.50" y2="363.50" stroke="#1e1e1e" stroke-width="1.0" />
<rect x="60.20" y="367.70" width="9.40" height="17.10" fill="#a5002b" stroke="#8e0026" stroke-width="0.6"/>
<line x1="76.50" y1="347.00" x2="76.50" y2="341.50" stroke="#1e1e1e" stroke-width="0.95" />
<line x1="73.50" y1="341.50" x2="79.50" y2="341.50" stroke="#1e1e1e" stroke-width="1.0" />
<rect x="71.50" y="347.00" width="9.40" height="37.80" fill="#2e4c7f" stroke="#1f3a70" stroke-width="0.6"/>
<line x1="87.50" y1="367.70" x2="87.50" y2="364.00" stroke="#1e1e1e" stroke-width="0.95" />
<line x1="84.50" y1="364.50" x2="90.50" y2="364.50" stroke="#1e1e1e" stroke-width="1.0" />
<rect x="82.80" y="367.70" width="9.40" height="17.10" fill="#6ba746" stroke="#5a9a37" stroke-width="0.6"/>
<line x1="98.50" y1="309.30" x2="98.50" y2="293.70" stroke="#1e1e1e" stroke-width="0.95" />
<line x1="95.50" y1="293.50" x2="101.50" y2="293.50" stroke="#1e1e1e" stroke-width="1.0" />
<rect x="94.10" y="309.30" width="9.40" height="75.50" fill="#532463" stroke="#40164f" stroke-width="0.6"/>
<line x1="115.50" y1="367.70" x2="115.50" y2="363.70" stroke="#1e1e1e" stroke-width="0.95" />
<line x1="112.50" y1="363.50" x2="118.50" y2="363.50" stroke="#1e1e1e" stroke-width="1.0" />
<rect x="110.90" y="367.70" width="9.40" height="17.10" fill="#a5002b" stroke="#8e0026" stroke-width="0.6"/>
<line x1="126.50" y1="344.70" x2="126.50" y2="339.40" stroke="#1e1e1e" stroke-width="0.95" />
<line x1="123.50" y1="339.50" x2="129.50" y2="339.50" stroke="#1e1e1e" stroke-width="1.0" />
<rect x="122.10" y="344.70" width="9.40" height="40.10" fill="#2e4c7f" stroke="#1f3a70" stroke-width="0.6"/>
<line x1="138.50" y1="367.70" x2="138.50" y2="363.80" stroke="#1e1e1e" stroke-width="0.95" />
<line x1="135.50" y1="363.50" x2="141.50" y2="363.50" stroke="#1e1e1e" stroke-width="1.0" />
<rect x="133.30" y="367.70" width="9.40" height="17.10" fill="#6ba746" stroke="#5a9a37" stroke-width="0.6"/>
<line x1="149.50" y1="300.50" x2="149.50" y2="279.90" stroke="#1e1e1e" stroke-width="0.95" />
<line x1="146.50" y1="279.50" x2="152.50" y2="279.50" stroke="#1e1e1e" stroke-width="1.0" />
<rect x="144.50" y="300.50" width="9.40" height="84.30" fill="#532463" stroke="#40164f" stroke-width="0.6"/>
<line x1="54.20" y1="275.20" x2="54.20" y2="385.40" stroke="#1e1e1e" stroke-width="1.3" />
<line x1="50.40" y1="384.80" x2="54.20" y2="384.80" stroke="#1e1e1e" stroke-width="0.9" />
<text x="47.60" y="388.30" font-size="9.8" text-anchor="end">0</text>
<line x1="50.40" y1="349.10" x2="54.20" y2="349.10" stroke="#1e1e1e" stroke-width="0.9" />
<text x="47.60" y="352.60" font-size="9.8" text-anchor="end">2</text>
<line x1="50.40" y1="313.40" x2="54.20" y2="313.40" stroke="#1e1e1e" stroke-width="0.9" />
<text x="47.60" y="316.90" font-size="9.8" text-anchor="end">4</text>
<line x1="50.40" y1="277.70" x2="54.20" y2="277.70" stroke="#1e1e1e" stroke-width="0.9" />
<text x="47.60" y="281.20" font-size="9.8" text-anchor="end">6</text>
<line x1="51.80" y1="366.95" x2="54.20" y2="366.95" stroke="#1e1e1e" stroke-width="0.9" />
<line x1="51.80" y1="331.25" x2="54.20" y2="331.25" stroke="#1e1e1e" stroke-width="0.9" />
<line x1="51.80" y1="295.55" x2="54.20" y2="295.55" stroke="#1e1e1e" stroke-width="0.9" />
<line x1="53.70" y1="384.80" x2="159.60" y2="384.80" stroke="#1e1e1e" stroke-width="1.2" />
<text x="36.00" y="330.50" font-size="11.3" text-anchor="middle" textLength="87.80" lengthAdjust="spacingAndGlyphs" transform="rotate(-90 36.00 330.50)">Fold enrichment vs IgG</text>
<path d="M64.50,360.50 L64.50,337.50 L76.50,337.50 L76.50,339.50" stroke="#1e1e1e" stroke-width="0.95" fill="none" />
<text x="70.40" y="339.76" font-size="8.2" text-anchor="middle" font-weight="bold" textLength="7.30" lengthAdjust="spacingAndGlyphs">**</text>
<path d="M76.50,333.50 L76.50,284.50 L98.50,284.50 L98.50,287.50" stroke="#1e1e1e" stroke-width="0.95" fill="none" />
<text x="85.60" y="286.86" font-size="8.2" text-anchor="middle" font-weight="bold" textLength="3.65" lengthAdjust="spacingAndGlyphs">*</text>
<path d="M87.50,360.50 L87.50,289.50 L98.50,289.50 L98.50,291.30" stroke="#1e1e1e" stroke-width="0.95" fill="none" />
<text x="93.20" y="292.16" font-size="8.2" text-anchor="middle" font-weight="bold" textLength="7.30" lengthAdjust="spacingAndGlyphs">**</text>
<path d="M115.50,360.50 L115.50,335.50 L126.50,335.50 L126.50,337.00" stroke="#1e1e1e" stroke-width="0.95" fill="none" />
<text x="121.00" y="337.36" font-size="8.2" text-anchor="middle" font-weight="bold" textLength="7.30" lengthAdjust="spacingAndGlyphs">**</text>
<path d="M126.50,331.00 L126.50,271.50 L149.50,271.50 L149.50,273.70" stroke="#1e1e1e" stroke-width="0.95" fill="none" />
<text x="137.60" y="273.36" font-size="8.2" text-anchor="middle" font-weight="bold" textLength="3.65" lengthAdjust="spacingAndGlyphs">*</text>
<path d="M138.50,360.50 L138.50,276.50 L149.50,276.50 L149.50,278.30" stroke="#1e1e1e" stroke-width="0.95" fill="none" />
<text x="143.00" y="278.86" font-size="8.2" text-anchor="middle" font-weight="bold" textLength="7.30" lengthAdjust="spacingAndGlyphs">**</text>
<rect x="164.20" y="300.60" width="12.00" height="7.90" fill="#a5002b" stroke="#8e0026" stroke-width="0.5"/>
<text x="180.00" y="307.20" font-size="9.8" textLength="33.56" lengthAdjust="spacingAndGlyphs">CTL&#8211;IgG</text>
<rect x="164.20" y="313.30" width="12.00" height="7.90" fill="#2e4c7f" stroke="#1f3a70" stroke-width="0.5"/>
<text x="180.00" y="319.90" font-size="9.8" textLength="55.80" lengthAdjust="spacingAndGlyphs">CTL&#8211;&#945;-HDAC1</text>
<rect x="164.20" y="326.20" width="12.00" height="7.90" fill="#6ba746" stroke="#5a9a37" stroke-width="0.5"/>
<text x="180.00" y="332.80" font-size="9.8" textLength="25.75" lengthAdjust="spacingAndGlyphs"><tspan font-style="italic">IK</tspan>&#8211;IgG</text>
<rect x="164.20" y="338.80" width="12.00" height="7.90" fill="#532463" stroke="#40164f" stroke-width="0.5"/>
<text x="180.00" y="345.40" font-size="9.8" textLength="47.99" lengthAdjust="spacingAndGlyphs"><tspan font-style="italic">IK</tspan>&#8211;&#945;-HDAC1</text>
<text x="68.50" y="395.90" font-size="9.5" textLength="26.60" lengthAdjust="spacingAndGlyphs">Nalm6</text>
<text x="124.30" y="395.90" font-size="9.5" textLength="14.60" lengthAdjust="spacingAndGlyphs">697</text>
<line x1="321.10" y1="349.50" x2="420.50" y2="349.50" stroke="#444" stroke-width="1.0" stroke-dasharray="1.0 1.5"/>
<line x1="330.50" y1="367.90" x2="330.50" y2="364.60" stroke="#1e1e1e" stroke-width="0.95" />
<line x1="327.50" y1="364.50" x2="333.50" y2="364.50" stroke="#1e1e1e" stroke-width="1.0" />
<rect x="325.80" y="367.90" width="9.40" height="16.90" fill="#a5002b" stroke="#8e0026" stroke-width="0.6"/>
<line x1="341.50" y1="290.60" x2="341.50" y2="280.80" stroke="#1e1e1e" stroke-width="0.95" />
<line x1="338.50" y1="280.50" x2="344.50" y2="280.50" stroke="#1e1e1e" stroke-width="1.0" />
<rect x="337.10" y="290.60" width="9.40" height="94.20" fill="#2e4c7f" stroke="#1f3a70" stroke-width="0.6"/>
<line x1="353.50" y1="367.90" x2="353.50" y2="365.20" stroke="#1e1e1e" stroke-width="0.95" />
<line x1="350.50" y1="365.50" x2="356.50" y2="365.50" stroke="#1e1e1e" stroke-width="1.0" />
<rect x="348.40" y="367.90" width="9.40" height="16.90" fill="#6ba746" stroke="#5a9a37" stroke-width="0.6"/>
<line x1="364.50" y1="362.50" x2="364.50" y2="359.20" stroke="#1e1e1e" stroke-width="0.95" />
<line x1="361.50" y1="359.50" x2="367.50" y2="359.50" stroke="#1e1e1e" stroke-width="1.0" />
<rect x="359.70" y="362.50" width="9.40" height="22.30" fill="#532463" stroke="#40164f" stroke-width="0.6"/>
<line x1="381.50" y1="367.90" x2="381.50" y2="364.60" stroke="#1e1e1e" stroke-width="0.95" />
<line x1="378.50" y1="364.50" x2="384.50" y2="364.50" stroke="#1e1e1e" stroke-width="1.0" />
<rect x="376.50" y="367.90" width="9.40" height="16.90" fill="#a5002b" stroke="#8e0026" stroke-width="0.6"/>
<line x1="392.50" y1="305.00" x2="392.50" y2="293.70" stroke="#1e1e1e" stroke-width="0.95" />
<line x1="389.50" y1="293.50" x2="395.50" y2="293.50" stroke="#1e1e1e" stroke-width="1.0" />
<rect x="387.70" y="305.00" width="9.40" height="79.80" fill="#2e4c7f" stroke="#1f3a70" stroke-width="0.6"/>
<line x1="403.50" y1="367.90" x2="403.50" y2="364.60" stroke="#1e1e1e" stroke-width="0.95" />
<line x1="400.50" y1="364.50" x2="406.50" y2="364.50" stroke="#1e1e1e" stroke-width="1.0" />
<rect x="398.90" y="367.90" width="9.40" height="16.90" fill="#6ba746" stroke="#5a9a37" stroke-width="0.6"/>
<line x1="414.50" y1="366.00" x2="414.50" y2="362.50" stroke="#1e1e1e" stroke-width="0.95" />
<line x1="411.50" y1="362.50" x2="417.50" y2="362.50" stroke="#1e1e1e" stroke-width="1.0" />
<rect x="410.10" y="366.00" width="9.40" height="18.80" fill="#532463" stroke="#40164f" stroke-width="0.6"/>
<line x1="319.60" y1="275.50" x2="319.60" y2="385.40" stroke="#1e1e1e" stroke-width="1.3" />
<line x1="315.80" y1="384.80" x2="319.60" y2="384.80" stroke="#1e1e1e" stroke-width="0.9" />
<text x="312.50" y="388.30" font-size="9.8" text-anchor="end">0</text>
<line x1="315.80" y1="349.20" x2="319.60" y2="349.20" stroke="#1e1e1e" stroke-width="0.9" />
<text x="312.50" y="352.70" font-size="9.8" text-anchor="end">2</text>
<line x1="315.80" y1="313.60" x2="319.60" y2="313.60" stroke="#1e1e1e" stroke-width="0.9" />
<text x="312.50" y="317.10" font-size="9.8" text-anchor="end">4</text>
<line x1="315.80" y1="278.00" x2="319.60" y2="278.00" stroke="#1e1e1e" stroke-width="0.9" />
<text x="312.50" y="281.50" font-size="9.8" text-anchor="end">6</text>
<line x1="317.20" y1="367.00" x2="319.60" y2="367.00" stroke="#1e1e1e" stroke-width="0.9" />
<line x1="317.20" y1="331.40" x2="319.60" y2="331.40" stroke="#1e1e1e" stroke-width="0.9" />
<line x1="317.20" y1="295.80" x2="319.60" y2="295.80" stroke="#1e1e1e" stroke-width="0.9" />
<line x1="319.10" y1="384.80" x2="425.00" y2="384.80" stroke="#1e1e1e" stroke-width="1.2" />
<text x="301.50" y="330.65" font-size="11.3" text-anchor="middle" textLength="87.80" lengthAdjust="spacingAndGlyphs" transform="rotate(-90 301.50 330.65)">Fold enrichment vs IgG</text>
<path d="M330.50,361.00 L330.50,276.50 L341.50,276.50 L341.50,278.20" stroke="#1e1e1e" stroke-width="0.95" fill="none" />
<text x="335.50" y="277.66" font-size="8.2" text-anchor="middle" font-weight="bold" textLength="10.95" lengthAdjust="spacingAndGlyphs">***</text>
<path d="M341.50,274.50 L341.50,270.50 L364.50,270.50 L364.50,355.50" stroke="#1e1e1e" stroke-width="0.95" fill="none" />
<text x="354.00" y="272.16" font-size="8.2" text-anchor="middle" font-weight="bold" textLength="10.95" lengthAdjust="spacingAndGlyphs">***</text>
<path d="M381.50,361.00 L381.50,285.50 L392.50,285.50 L392.50,290.20" stroke="#1e1e1e" stroke-width="0.95" fill="none" />
<text x="386.20" y="286.16" font-size="8.2" text-anchor="middle" font-weight="bold" textLength="10.95" lengthAdjust="spacingAndGlyphs">***</text>
<path d="M392.50,281.50 L392.50,279.50 L414.50,279.50 L414.50,358.50" stroke="#1e1e1e" stroke-width="0.95" fill="none" />
<text x="403.60" y="281.56" font-size="8.2" text-anchor="middle" font-weight="bold" textLength="10.95" lengthAdjust="spacingAndGlyphs">***</text>
<rect x="423.10" y="305.60" width="12.10" height="7.90" fill="#a5002b" stroke="#8e0026" stroke-width="0.5"/>
<text x="439.00" y="312.20" font-size="9.8" textLength="33.56" lengthAdjust="spacingAndGlyphs">CTL&#8211;IgG</text>
<rect x="423.10" y="318.00" width="12.10" height="7.90" fill="#2e4c7f" stroke="#1f3a70" stroke-width="0.5"/>
<text x="439.00" y="324.60" font-size="9.8" textLength="57.18" lengthAdjust="spacingAndGlyphs">CTL&#8211;&#945;-H3K9ac</text>
<rect x="423.10" y="331.00" width="12.10" height="7.90" fill="#6ba746" stroke="#5a9a37" stroke-width="0.5"/>
<text x="439.00" y="337.60" font-size="9.8" textLength="25.75" lengthAdjust="spacingAndGlyphs"><tspan font-style="italic">IK</tspan>&#8211;IgG</text>
<rect x="423.10" y="344.00" width="12.10" height="7.90" fill="#532463" stroke="#40164f" stroke-width="0.5"/>
<text x="439.00" y="350.60" font-size="9.8" textLength="49.37" lengthAdjust="spacingAndGlyphs"><tspan font-style="italic">IK</tspan>&#8211;&#945;-H3K9ac</text>
<text x="334.50" y="396.30" font-size="9.5" textLength="26.40" lengthAdjust="spacingAndGlyphs">Nalm6</text>
<text x="390.50" y="396.30" font-size="9.5" textLength="14.50" lengthAdjust="spacingAndGlyphs">697</text>
<line x1="55.70" y1="518.50" x2="159.50" y2="518.50" stroke="#444" stroke-width="1.0" stroke-dasharray="1.0 1.5"/>
<line x1="64.50" y1="540.20" x2="64.50" y2="536.40" stroke="#1e1e1e" stroke-width="0.95" />
<line x1="61.50" y1="536.50" x2="67.50" y2="536.50" stroke="#1e1e1e" stroke-width="1.0" />
<rect x="60.20" y="540.20" width="9.40" height="20.40" fill="#a5002b" stroke="#8e0026" stroke-width="0.6"/>
<line x1="76.50" y1="536.10" x2="76.50" y2="529.70" stroke="#1e1e1e" stroke-width="0.95" />
<line x1="73.50" y1="529.50" x2="79.50" y2="529.50" stroke="#1e1e1e" stroke-width="1.0" />
<rect x="71.50" y="536.10" width="9.40" height="24.50" fill="#2e4c7f" stroke="#1f3a70" stroke-width="0.6"/>
<line x1="87.50" y1="540.20" x2="87.50" y2="535.60" stroke="#1e1e1e" stroke-width="0.95" />
<line x1="84.50" y1="535.50" x2="90.50" y2="535.50" stroke="#1e1e1e" stroke-width="1.0" />
<rect x="82.80" y="540.20" width="9.40" height="20.40" fill="#6ba746" stroke="#5a9a37" stroke-width="0.6"/>
<line x1="98.50" y1="479.40" x2="98.50" y2="463.50" stroke="#1e1e1e" stroke-width="0.95" />
<line x1="95.50" y1="463.50" x2="101.50" y2="463.50" stroke="#1e1e1e" stroke-width="1.0" />
<rect x="94.10" y="479.40" width="9.40" height="81.20" fill="#532463" stroke="#40164f" stroke-width="0.6"/>
<line x1="115.50" y1="540.20" x2="115.50" y2="536.40" stroke="#1e1e1e" stroke-width="0.95" />
<line x1="112.50" y1="536.50" x2="118.50" y2="536.50" stroke="#1e1e1e" stroke-width="1.0" />
<rect x="110.90" y="540.20" width="9.40" height="20.40" fill="#a5002b" stroke="#8e0026" stroke-width="0.6"/>
<line x1="126.50" y1="538.30" x2="126.50" y2="532.90" stroke="#1e1e1e" stroke-width="0.95" />
<line x1="123.50" y1="532.50" x2="129.50" y2="532.50" stroke="#1e1e1e" stroke-width="1.0" />
<rect x="122.10" y="538.30" width="9.40" height="22.30" fill="#2e4c7f" stroke="#1f3a70" stroke-width="0.6"/>
<line x1="138.50" y1="540.20" x2="138.50" y2="536.00" stroke="#1e1e1e" stroke-width="0.95" />
<line x1="135.50" y1="536.50" x2="141.50" y2="536.50" stroke="#1e1e1e" stroke-width="1.0" />
<rect x="133.30" y="540.20" width="9.40" height="20.40" fill="#6ba746" stroke="#5a9a37" stroke-width="0.6"/>
<line x1="149.50" y1="490.00" x2="149.50" y2="480.40" stroke="#1e1e1e" stroke-width="0.95" />
<line x1="146.50" y1="480.50" x2="152.50" y2="480.50" stroke="#1e1e1e" stroke-width="1.0" />
<rect x="144.50" y="490.00" width="9.40" height="70.60" fill="#532463" stroke="#40164f" stroke-width="0.6"/>
<line x1="54.20" y1="452.00" x2="54.20" y2="561.20" stroke="#1e1e1e" stroke-width="1.3" />
<line x1="50.40" y1="560.60" x2="54.20" y2="560.60" stroke="#1e1e1e" stroke-width="0.9" />
<text x="47.60" y="564.10" font-size="9.8" text-anchor="end">0</text>
<line x1="50.40" y1="539.45" x2="54.20" y2="539.45" stroke="#1e1e1e" stroke-width="0.9" />
<text x="47.60" y="542.95" font-size="9.8" text-anchor="end">1</text>
<line x1="50.40" y1="518.30" x2="54.20" y2="518.30" stroke="#1e1e1e" stroke-width="0.9" />
<text x="47.60" y="521.80" font-size="9.8" text-anchor="end">2</text>
<line x1="50.40" y1="497.15" x2="54.20" y2="497.15" stroke="#1e1e1e" stroke-width="0.9" />
<text x="47.60" y="500.65" font-size="9.8" text-anchor="end">3</text>
<line x1="50.40" y1="476.00" x2="54.20" y2="476.00" stroke="#1e1e1e" stroke-width="0.9" />
<text x="47.60" y="479.50" font-size="9.8" text-anchor="end">4</text>
<line x1="50.40" y1="454.85" x2="54.20" y2="454.85" stroke="#1e1e1e" stroke-width="0.9" />
<text x="47.60" y="458.35" font-size="9.8" text-anchor="end">5</text>
<line x1="51.80" y1="550.02" x2="54.20" y2="550.02" stroke="#1e1e1e" stroke-width="0.9" />
<line x1="51.80" y1="528.88" x2="54.20" y2="528.88" stroke="#1e1e1e" stroke-width="0.9" />
<line x1="51.80" y1="507.73" x2="54.20" y2="507.73" stroke="#1e1e1e" stroke-width="0.9" />
<line x1="51.80" y1="486.58" x2="54.20" y2="486.58" stroke="#1e1e1e" stroke-width="0.9" />
<line x1="51.80" y1="465.43" x2="54.20" y2="465.43" stroke="#1e1e1e" stroke-width="0.9" />
<line x1="53.70" y1="560.60" x2="159.00" y2="560.60" stroke="#1e1e1e" stroke-width="1.2" />
<text x="36.00" y="506.80" font-size="11.3" text-anchor="middle" textLength="87.80" lengthAdjust="spacingAndGlyphs" transform="rotate(-90 36.00 506.80)">Fold enrichment vs IgG</text>
<path d="M76.50,527.00 L76.50,451.50 L98.50,451.50 L98.50,454.40" stroke="#1e1e1e" stroke-width="0.95" fill="none" />
<text x="86.00" y="453.36" font-size="8.2" text-anchor="middle" font-weight="bold" textLength="7.30" lengthAdjust="spacingAndGlyphs">**</text>
<path d="M87.50,533.00 L87.50,458.50 L98.50,458.50 L98.50,460.50" stroke="#1e1e1e" stroke-width="0.95" fill="none" />
<text x="93.00" y="460.06" font-size="8.2" text-anchor="middle" font-weight="bold" textLength="7.30" lengthAdjust="spacingAndGlyphs">**</text>
<path d="M126.50,530.00 L126.50,467.50 L149.50,467.50 L149.50,469.60" stroke="#1e1e1e" stroke-width="0.95" fill="none" />
<text x="137.40" y="469.26" font-size="8.2" text-anchor="middle" font-weight="bold" textLength="10.95" lengthAdjust="spacingAndGlyphs">***</text>
<path d="M138.50,533.50 L138.50,474.50 L149.50,474.50 L149.50,476.80" stroke="#1e1e1e" stroke-width="0.95" fill="none" />
<text x="141.70" y="475.96" font-size="8.2" text-anchor="middle" font-weight="bold" textLength="10.95" lengthAdjust="spacingAndGlyphs">***</text>
<rect x="164.10" y="490.50" width="12.10" height="7.90" fill="#a5002b" stroke="#8e0026" stroke-width="0.5"/>
<text x="180.20" y="497.10" font-size="9.8" textLength="33.56" lengthAdjust="spacingAndGlyphs">CTL&#8211;IgG</text>
<rect x="164.10" y="503.20" width="12.10" height="7.90" fill="#2e4c7f" stroke="#1f3a70" stroke-width="0.5"/>
<text x="180.20" y="509.80" font-size="9.8" textLength="69.14" lengthAdjust="spacingAndGlyphs">CTL&#8211;&#945;-H3K27me3</text>
<rect x="164.10" y="516.30" width="12.10" height="7.90" fill="#6ba746" stroke="#5a9a37" stroke-width="0.5"/>
<text x="180.20" y="522.90" font-size="9.8" textLength="25.75" lengthAdjust="spacingAndGlyphs"><tspan font-style="italic">IK</tspan>&#8211;IgG</text>
<rect x="164.10" y="529.50" width="12.10" height="7.90" fill="#532463" stroke="#40164f" stroke-width="0.5"/>
<text x="180.20" y="536.10" font-size="9.8" textLength="61.32" lengthAdjust="spacingAndGlyphs"><tspan font-style="italic">IK</tspan>&#8211;&#945;-H3K27me3</text>
<text x="68.00" y="571.90" font-size="9.5" textLength="26.50" lengthAdjust="spacingAndGlyphs">Nalm6</text>
<text x="123.80" y="571.90" font-size="9.5" textLength="14.80" lengthAdjust="spacingAndGlyphs">697</text>
<line x1="321.10" y1="490.50" x2="420.50" y2="490.50" stroke="#444" stroke-width="1.0" stroke-dasharray="1.0 1.5"/>
<line x1="330.50" y1="526.70" x2="330.50" y2="519.70" stroke="#1e1e1e" stroke-width="0.95" />
<line x1="327.50" y1="519.50" x2="333.50" y2="519.50" stroke="#1e1e1e" stroke-width="1.0" />
<rect x="325.80" y="526.70" width="9.40" height="33.70" fill="#a5002b" stroke="#8e0026" stroke-width="0.6"/>
<line x1="341.50" y1="477.50" x2="341.50" y2="470.40" stroke="#1e1e1e" stroke-width="0.95" />
<line x1="338.50" y1="470.50" x2="344.50" y2="470.50" stroke="#1e1e1e" stroke-width="1.0" />
<rect x="337.10" y="477.50" width="9.40" height="82.90" fill="#2e4c7f" stroke="#1f3a70" stroke-width="0.6"/>
<line x1="353.50" y1="526.70" x2="353.50" y2="520.20" stroke="#1e1e1e" stroke-width="0.95" />
<line x1="350.50" y1="520.50" x2="356.50" y2="520.50" stroke="#1e1e1e" stroke-width="1.0" />
<rect x="348.40" y="526.70" width="9.40" height="33.70" fill="#6ba746" stroke="#5a9a37" stroke-width="0.6"/>
<line x1="364.50" y1="516.20" x2="364.50" y2="511.60" stroke="#1e1e1e" stroke-width="0.95" />
<line x1="361.50" y1="511.50" x2="367.50" y2="511.50" stroke="#1e1e1e" stroke-width="1.0" />
<rect x="359.70" y="516.20" width="9.40" height="44.20" fill="#532463" stroke="#40164f" stroke-width="0.6"/>
<line x1="380.50" y1="527.00" x2="380.50" y2="520.40" stroke="#1e1e1e" stroke-width="0.95" />
<line x1="377.50" y1="520.50" x2="383.50" y2="520.50" stroke="#1e1e1e" stroke-width="1.0" />
<rect x="375.30" y="527.00" width="9.40" height="33.40" fill="#a5002b" stroke="#8e0026" stroke-width="0.6"/>
<line x1="391.50" y1="474.20" x2="391.50" y2="463.50" stroke="#1e1e1e" stroke-width="0.95" />
<line x1="388.50" y1="463.50" x2="394.50" y2="463.50" stroke="#1e1e1e" stroke-width="1.0" />
<rect x="386.50" y="474.20" width="9.40" height="86.20" fill="#2e4c7f" stroke="#1f3a70" stroke-width="0.6"/>
<line x1="402.50" y1="527.00" x2="402.50" y2="519.60" stroke="#1e1e1e" stroke-width="0.95" />
<line x1="399.50" y1="519.50" x2="405.50" y2="519.50" stroke="#1e1e1e" stroke-width="1.0" />
<rect x="397.70" y="527.00" width="9.40" height="33.40" fill="#6ba746" stroke="#5a9a37" stroke-width="0.6"/>
<line x1="413.50" y1="521.70" x2="413.50" y2="515.70" stroke="#1e1e1e" stroke-width="0.95" />
<line x1="410.50" y1="515.50" x2="416.50" y2="515.50" stroke="#1e1e1e" stroke-width="1.0" />
<rect x="408.90" y="521.70" width="9.40" height="38.70" fill="#532463" stroke="#40164f" stroke-width="0.6"/>
<line x1="319.60" y1="452.10" x2="319.60" y2="561.00" stroke="#1e1e1e" stroke-width="1.3" />
<line x1="315.80" y1="560.40" x2="319.60" y2="560.40" stroke="#1e1e1e" stroke-width="0.9" />
<text x="312.40" y="563.90" font-size="9.8" text-anchor="end">0</text>
<line x1="315.80" y1="525.40" x2="319.60" y2="525.40" stroke="#1e1e1e" stroke-width="0.9" />
<text x="312.40" y="528.90" font-size="9.8" text-anchor="end">1</text>
<line x1="315.80" y1="490.40" x2="319.60" y2="490.40" stroke="#1e1e1e" stroke-width="0.9" />
<text x="312.40" y="493.90" font-size="9.8" text-anchor="end">2</text>
<line x1="315.80" y1="455.40" x2="319.60" y2="455.40" stroke="#1e1e1e" stroke-width="0.9" />
<text x="312.40" y="458.90" font-size="9.8" text-anchor="end">3</text>
<line x1="317.20" y1="542.90" x2="319.60" y2="542.90" stroke="#1e1e1e" stroke-width="0.9" />
<line x1="317.20" y1="507.90" x2="319.60" y2="507.90" stroke="#1e1e1e" stroke-width="0.9" />
<line x1="317.20" y1="472.90" x2="319.60" y2="472.90" stroke="#1e1e1e" stroke-width="0.9" />
<line x1="319.10" y1="560.40" x2="425.00" y2="560.40" stroke="#1e1e1e" stroke-width="1.2" />
<text x="302.30" y="506.75" font-size="11.3" text-anchor="middle" textLength="87.80" lengthAdjust="spacingAndGlyphs" transform="rotate(-90 302.30 506.75)">Fold enrichment vs IgG</text>
<path d="M330.50,516.50 L330.50,464.50 L341.50,464.50 L341.50,466.90" stroke="#1e1e1e" stroke-width="0.95" fill="none" />
<text x="334.40" y="466.16" font-size="8.2" text-anchor="middle" font-weight="bold" textLength="10.95" lengthAdjust="spacingAndGlyphs">***</text>
<path d="M341.50,461.00 L341.50,458.50 L364.50,458.50 L364.50,508.50" stroke="#1e1e1e" stroke-width="0.95" fill="none" />
<text x="351.20" y="459.66" font-size="8.2" text-anchor="middle" font-weight="bold" textLength="10.95" lengthAdjust="spacingAndGlyphs">***</text>
<path d="M380.50,515.50 L380.50,457.50 L391.50,457.50 L391.50,460.00" stroke="#1e1e1e" stroke-width="0.95" fill="none" />
<text x="385.10" y="459.66" font-size="8.2" text-anchor="middle" font-weight="bold" textLength="7.30" lengthAdjust="spacingAndGlyphs">**</text>
<path d="M391.50,455.00 L391.50,452.50 L413.50,452.50 L413.50,511.80" stroke="#1e1e1e" stroke-width="0.95" fill="none" />
<text x="402.40" y="453.36" font-size="8.2" text-anchor="middle" font-weight="bold" textLength="7.30" lengthAdjust="spacingAndGlyphs">**</text>
<rect x="421.00" y="481.60" width="12.30" height="7.90" fill="#a5002b" stroke="#8e0026" stroke-width="0.5"/>
<text x="437.10" y="488.20" font-size="9.8" textLength="42.28" lengthAdjust="spacingAndGlyphs">shCTL&#8211;IgG</text>
<rect x="421.00" y="494.80" width="12.30" height="7.90" fill="#2e4c7f" stroke="#1f3a70" stroke-width="0.5"/>
<text x="437.10" y="501.40" font-size="9.8" textLength="64.52" lengthAdjust="spacingAndGlyphs">shCTL&#8211;&#945;-HDAC1</text>
<rect x="421.00" y="507.40" width="12.30" height="7.90" fill="#6ba746" stroke="#5a9a37" stroke-width="0.5"/>
<text x="437.10" y="514.00" font-size="9.8" textLength="34.49" lengthAdjust="spacingAndGlyphs">sh<tspan font-style="italic">IK</tspan>&#8211;IgG</text>
<rect x="421.00" y="520.10" width="12.30" height="7.90" fill="#532463" stroke="#40164f" stroke-width="0.5"/>
<text x="437.10" y="526.70" font-size="9.8" textLength="56.72" lengthAdjust="spacingAndGlyphs">sh<tspan font-style="italic">IK</tspan>&#8211;&#945;-HDAC1</text>
<text x="333.80" y="571.90" font-size="9.5" textLength="27.00" lengthAdjust="spacingAndGlyphs">Nalm6</text>
<text x="388.80" y="571.90" font-size="9.5" textLength="15.00" lengthAdjust="spacingAndGlyphs">697</text>
<line x1="55.90" y1="726.50" x2="159.50" y2="726.50" stroke="#444" stroke-width="1.0" stroke-dasharray="1.0 1.5"/>
<line x1="64.50" y1="736.20" x2="64.50" y2="733.70" stroke="#1e1e1e" stroke-width="0.95" />
<line x1="61.50" y1="733.50" x2="67.50" y2="733.50" stroke="#1e1e1e" stroke-width="1.0" />
<rect x="60.20" y="736.20" width="9.40" height="8.00" fill="#a5002b" stroke="#8e0026" stroke-width="0.6"/>
<line x1="76.50" y1="692.60" x2="76.50" y2="685.40" stroke="#1e1e1e" stroke-width="0.95" />
<line x1="73.50" y1="685.50" x2="79.50" y2="685.50" stroke="#1e1e1e" stroke-width="1.0" />
<rect x="71.50" y="692.60" width="9.40" height="51.60" fill="#2e4c7f" stroke="#1f3a70" stroke-width="0.6"/>
<line x1="87.50" y1="736.20" x2="87.50" y2="733.70" stroke="#1e1e1e" stroke-width="0.95" />
<line x1="84.50" y1="733.50" x2="90.50" y2="733.50" stroke="#1e1e1e" stroke-width="1.0" />
<rect x="82.80" y="736.20" width="9.40" height="8.00" fill="#6ba746" stroke="#5a9a37" stroke-width="0.6"/>
<line x1="98.50" y1="657.90" x2="98.50" y2="646.40" stroke="#1e1e1e" stroke-width="0.95" />
<line x1="95.50" y1="646.50" x2="101.50" y2="646.50" stroke="#1e1e1e" stroke-width="1.0" />
<rect x="94.10" y="657.90" width="9.40" height="86.30" fill="#532463" stroke="#40164f" stroke-width="0.6"/>
<line x1="115.50" y1="736.20" x2="115.50" y2="733.80" stroke="#1e1e1e" stroke-width="0.95" />
<line x1="112.50" y1="733.50" x2="118.50" y2="733.50" stroke="#1e1e1e" stroke-width="1.0" />
<rect x="110.90" y="736.20" width="9.40" height="8.00" fill="#a5002b" stroke="#8e0026" stroke-width="0.6"/>
<line x1="126.50" y1="707.40" x2="126.50" y2="701.40" stroke="#1e1e1e" stroke-width="0.95" />
<line x1="123.50" y1="701.50" x2="129.50" y2="701.50" stroke="#1e1e1e" stroke-width="1.0" />
<rect x="122.10" y="707.40" width="9.40" height="36.80" fill="#2e4c7f" stroke="#1f3a70" stroke-width="0.6"/>
<line x1="138.50" y1="736.20" x2="138.50" y2="733.80" stroke="#1e1e1e" stroke-width="0.95" />
<line x1="135.50" y1="733.50" x2="141.50" y2="733.50" stroke="#1e1e1e" stroke-width="1.0" />
<rect x="133.30" y="736.20" width="9.40" height="8.00" fill="#6ba746" stroke="#5a9a37" stroke-width="0.6"/>
<line x1="149.50" y1="668.90" x2="149.50" y2="659.60" stroke="#1e1e1e" stroke-width="0.95" />
<line x1="146.50" y1="659.50" x2="152.50" y2="659.50" stroke="#1e1e1e" stroke-width="1.0" />
<rect x="144.50" y="668.90" width="9.40" height="75.30" fill="#532463" stroke="#40164f" stroke-width="0.6"/>
<line x1="54.40" y1="634.40" x2="54.40" y2="744.80" stroke="#1e1e1e" stroke-width="1.3" />
<line x1="50.60" y1="744.20" x2="54.40" y2="744.20" stroke="#1e1e1e" stroke-width="0.9" />
<text x="47.60" y="747.70" font-size="9.8" text-anchor="end">0</text>
<line x1="50.60" y1="708.60" x2="54.40" y2="708.60" stroke="#1e1e1e" stroke-width="0.9" />
<text x="47.60" y="712.10" font-size="9.8" text-anchor="end">4</text>
<line x1="50.60" y1="673.00" x2="54.40" y2="673.00" stroke="#1e1e1e" stroke-width="0.9" />
<text x="47.60" y="676.50" font-size="9.8" text-anchor="end">8</text>
<line x1="50.60" y1="637.40" x2="54.40" y2="637.40" stroke="#1e1e1e" stroke-width="0.9" />
<text x="38.00" y="640.90" font-size="9.8" textLength="9.60" lengthAdjust="spacingAndGlyphs">12</text>
<line x1="52.00" y1="726.40" x2="54.40" y2="726.40" stroke="#1e1e1e" stroke-width="0.9" />
<line x1="52.00" y1="690.80" x2="54.40" y2="690.80" stroke="#1e1e1e" stroke-width="0.9" />
<line x1="52.00" y1="655.20" x2="54.40" y2="655.20" stroke="#1e1e1e" stroke-width="0.9" />
<line x1="53.90" y1="744.20" x2="161.20" y2="744.20" stroke="#1e1e1e" stroke-width="1.2" />
<text x="31.00" y="689.80" font-size="11.3" text-anchor="middle" textLength="87.80" lengthAdjust="spacingAndGlyphs" transform="rotate(-90 31.00 689.80)">Fold enrichment vs IgG</text>
<path d="M64.50,730.50 L64.50,680.50 L76.50,680.50 L76.50,683.00" stroke="#1e1e1e" stroke-width="0.95" fill="none" />
<text x="69.30" y="682.26" font-size="8.2" text-anchor="middle" font-weight="bold" textLength="10.95" lengthAdjust="spacingAndGlyphs">***</text>
<path d="M76.50,676.10 L76.50,633.50 L98.50,633.50 L98.50,635.80" stroke="#1e1e1e" stroke-width="0.95" fill="none" />
<text x="87.00" y="635.76" font-size="8.2" text-anchor="middle" font-weight="bold" textLength="7.30" lengthAdjust="spacingAndGlyphs">**</text>
<path d="M87.50,730.50 L87.50,639.50 L98.50,639.50 L98.50,643.00" stroke="#1e1e1e" stroke-width="0.95" fill="none" />
<text x="91.80" y="641.26" font-size="8.2" text-anchor="middle" font-weight="bold" textLength="10.95" lengthAdjust="spacingAndGlyphs">***</text>
<path d="M115.50,730.50 L115.50,695.50 L126.50,695.50 L126.50,698.40" stroke="#1e1e1e" stroke-width="0.95" fill="none" />
<text x="119.20" y="697.36" font-size="8.2" text-anchor="middle" font-weight="bold" textLength="10.95" lengthAdjust="spacingAndGlyphs">***</text>
<path d="M126.50,690.90 L126.50,647.50 L149.50,647.50 L149.50,649.80" stroke="#1e1e1e" stroke-width="0.95" fill="none" />
<text x="137.80" y="649.46" font-size="8.2" text-anchor="middle" font-weight="bold" textLength="7.30" lengthAdjust="spacingAndGlyphs">**</text>
<path d="M138.50,730.50 L138.50,653.50 L149.50,653.50 L149.50,655.80" stroke="#1e1e1e" stroke-width="0.95" fill="none" />
<text x="141.90" y="655.36" font-size="8.2" text-anchor="middle" font-weight="bold" textLength="10.95" lengthAdjust="spacingAndGlyphs">***</text>
<rect x="164.10" y="665.10" width="12.10" height="7.90" fill="#a5002b" stroke="#8e0026" stroke-width="0.5"/>
<text x="179.80" y="671.70" font-size="9.8" textLength="42.28" lengthAdjust="spacingAndGlyphs">shCTL&#8211;IgG</text>
<rect x="164.10" y="678.20" width="12.10" height="7.90" fill="#2e4c7f" stroke="#1f3a70" stroke-width="0.5"/>
<text x="179.80" y="684.80" font-size="9.8" textLength="65.91" lengthAdjust="spacingAndGlyphs">shCTL&#8211;&#945;-H3K9ac</text>
<rect x="164.10" y="691.30" width="12.10" height="7.90" fill="#6ba746" stroke="#5a9a37" stroke-width="0.5"/>
<text x="179.80" y="697.90" font-size="9.8" textLength="34.49" lengthAdjust="spacingAndGlyphs">sh<tspan font-style="italic">IK</tspan>&#8211;IgG</text>
<rect x="164.10" y="704.50" width="12.10" height="7.90" fill="#532463" stroke="#40164f" stroke-width="0.5"/>
<text x="179.80" y="711.10" font-size="9.8" textLength="58.10" lengthAdjust="spacingAndGlyphs">sh<tspan font-style="italic">IK</tspan>&#8211;&#945;-H3K9ac</text>
<text x="68.00" y="755.10" font-size="9.5" textLength="26.50" lengthAdjust="spacingAndGlyphs">Nalm6</text>
<text x="123.80" y="755.10" font-size="9.5" textLength="14.30" lengthAdjust="spacingAndGlyphs">697</text>
<line x1="321.10" y1="729.50" x2="420.50" y2="729.50" stroke="#444" stroke-width="1.0" stroke-dasharray="1.0 1.5"/>
<line x1="330.50" y1="738.00" x2="330.50" y2="736.20" stroke="#1e1e1e" stroke-width="0.95" />
<line x1="327.50" y1="736.50" x2="333.50" y2="736.50" stroke="#1e1e1e" stroke-width="1.0" />
<rect x="325.80" y="738.00" width="9.40" height="6.20" fill="#a5002b" stroke="#8e0026" stroke-width="0.6"/>
<line x1="341.50" y1="717.40" x2="341.50" y2="710.40" stroke="#1e1e1e" stroke-width="0.95" />
<line x1="338.50" y1="710.50" x2="344.50" y2="710.50" stroke="#1e1e1e" stroke-width="1.0" />
<rect x="337.10" y="717.40" width="9.40" height="26.80" fill="#2e4c7f" stroke="#1f3a70" stroke-width="0.6"/>
<line x1="353.50" y1="738.00" x2="353.50" y2="736.20" stroke="#1e1e1e" stroke-width="0.95" />
<line x1="350.50" y1="736.50" x2="356.50" y2="736.50" stroke="#1e1e1e" stroke-width="1.0" />
<rect x="348.40" y="738.00" width="9.40" height="6.20" fill="#6ba746" stroke="#5a9a37" stroke-width="0.6"/>
<line x1="364.50" y1="653.50" x2="364.50" y2="639.60" stroke="#1e1e1e" stroke-width="0.95" />
<line x1="361.50" y1="639.50" x2="367.50" y2="639.50" stroke="#1e1e1e" stroke-width="1.0" />
<rect x="359.70" y="653.50" width="9.40" height="90.70" fill="#532463" stroke="#40164f" stroke-width="0.6"/>
<line x1="381.50" y1="738.00" x2="381.50" y2="736.00" stroke="#1e1e1e" stroke-width="0.95" />
<line x1="378.50" y1="736.50" x2="384.50" y2="736.50" stroke="#1e1e1e" stroke-width="1.0" />
<rect x="376.50" y="738.00" width="9.40" height="6.20" fill="#a5002b" stroke="#8e0026" stroke-width="0.6"/>
<line x1="392.50" y1="719.50" x2="392.50" y2="713.80" stroke="#1e1e1e" stroke-width="0.95" />
<line x1="389.50" y1="713.50" x2="395.50" y2="713.50" stroke="#1e1e1e" stroke-width="1.0" />
<rect x="387.70" y="719.50" width="9.40" height="24.70" fill="#2e4c7f" stroke="#1f3a70" stroke-width="0.6"/>
<line x1="403.50" y1="738.00" x2="403.50" y2="736.00" stroke="#1e1e1e" stroke-width="0.95" />
<line x1="400.50" y1="736.50" x2="406.50" y2="736.50" stroke="#1e1e1e" stroke-width="1.0" />
<rect x="398.90" y="738.00" width="9.40" height="6.20" fill="#6ba746" stroke="#5a9a37" stroke-width="0.6"/>
<line x1="414.50" y1="662.10" x2="414.50" y2="650.00" stroke="#1e1e1e" stroke-width="0.95" />
<line x1="411.50" y1="650.50" x2="417.50" y2="650.50" stroke="#1e1e1e" stroke-width="1.0" />
<rect x="410.10" y="662.10" width="9.40" height="82.10" fill="#532463" stroke="#40164f" stroke-width="0.6"/>
<line x1="319.60" y1="634.40" x2="319.60" y2="744.80" stroke="#1e1e1e" stroke-width="1.3" />
<line x1="315.80" y1="744.20" x2="319.60" y2="744.20" stroke="#1e1e1e" stroke-width="0.9" />
<text x="312.60" y="747.70" font-size="9.8" text-anchor="end">0</text>
<line x1="315.80" y1="708.60" x2="319.60" y2="708.60" stroke="#1e1e1e" stroke-width="0.9" />
<text x="312.60" y="712.10" font-size="9.8" text-anchor="end">5</text>
<line x1="315.80" y1="673.00" x2="319.60" y2="673.00" stroke="#1e1e1e" stroke-width="0.9" />
<text x="303.40" y="676.50" font-size="9.8" textLength="9.20" lengthAdjust="spacingAndGlyphs">10</text>
<line x1="315.80" y1="637.40" x2="319.60" y2="637.40" stroke="#1e1e1e" stroke-width="0.9" />
<text x="303.40" y="640.90" font-size="9.8" textLength="9.20" lengthAdjust="spacingAndGlyphs">15</text>
<line x1="317.20" y1="726.40" x2="319.60" y2="726.40" stroke="#1e1e1e" stroke-width="0.9" />
<line x1="317.20" y1="690.80" x2="319.60" y2="690.80" stroke="#1e1e1e" stroke-width="0.9" />
<line x1="317.20" y1="655.20" x2="319.60" y2="655.20" stroke="#1e1e1e" stroke-width="0.9" />
<line x1="319.10" y1="744.20" x2="425.00" y2="744.20" stroke="#1e1e1e" stroke-width="1.2" />
<text x="296.80" y="689.80" font-size="11.3" text-anchor="middle" textLength="87.80" lengthAdjust="spacingAndGlyphs" transform="rotate(-90 296.80 689.80)">Fold enrichment vs IgG</text>
<path d="M330.50,733.50 L330.50,703.50 L341.50,703.50 L341.50,706.30" stroke="#1e1e1e" stroke-width="0.95" fill="none" />
<text x="335.90" y="703.86" font-size="8.2" text-anchor="middle" font-weight="bold" textLength="7.30" lengthAdjust="spacingAndGlyphs">**</text>
<path d="M341.50,700.60 L341.50,629.50 L364.50,629.50 L364.50,631.50" stroke="#1e1e1e" stroke-width="0.95" fill="none" />
<text x="354.20" y="630.26" font-size="8.2" text-anchor="middle" font-weight="bold" textLength="7.30" lengthAdjust="spacingAndGlyphs">**</text>
<path d="M353.50,733.50 L353.50,634.50 L364.50,634.50 L364.50,637.00" stroke="#1e1e1e" stroke-width="0.95" fill="none" />
<text x="358.00" y="636.56" font-size="8.2" text-anchor="middle" font-weight="bold" textLength="10.95" lengthAdjust="spacingAndGlyphs">***</text>
<path d="M381.50,733.50 L381.50,707.50 L392.50,707.50 L392.50,711.20" stroke="#1e1e1e" stroke-width="0.95" fill="none" />
<text x="386.00" y="709.06" font-size="8.2" text-anchor="middle" font-weight="bold" textLength="7.30" lengthAdjust="spacingAndGlyphs">**</text>
<path d="M392.50,705.00 L392.50,639.50 L414.50,639.50 L414.50,642.00" stroke="#1e1e1e" stroke-width="0.95" fill="none" />
<text x="404.60" y="640.46" font-size="8.2" text-anchor="middle" font-weight="bold" textLength="7.30" lengthAdjust="spacingAndGlyphs">**</text>
<path d="M403.50,733.50 L403.50,645.50 L414.50,645.50 L414.50,647.50" stroke="#1e1e1e" stroke-width="0.95" fill="none" />
<text x="409.00" y="646.96" font-size="8.2" text-anchor="middle" font-weight="bold" textLength="10.95" lengthAdjust="spacingAndGlyphs">***</text>
<rect x="423.10" y="666.50" width="12.70" height="7.90" fill="#a5002b" stroke="#8e0026" stroke-width="0.5"/>
<text x="439.20" y="673.10" font-size="9.8" textLength="42.28" lengthAdjust="spacingAndGlyphs">shCTL&#8211;IgG</text>
<rect x="423.10" y="679.60" width="12.70" height="7.90" fill="#2e4c7f" stroke="#1f3a70" stroke-width="0.5"/>
<text x="439.20" y="686.20" font-size="9.8" textLength="73.26" lengthAdjust="spacingAndGlyphs">shCTL&#8211;&#945;-H3K4me3</text>
<rect x="423.10" y="692.30" width="12.70" height="7.90" fill="#6ba746" stroke="#5a9a37" stroke-width="0.5"/>
<text x="439.20" y="698.90" font-size="9.8" textLength="34.49" lengthAdjust="spacingAndGlyphs">sh<tspan font-style="italic">IK</tspan>&#8211;IgG</text>
<rect x="423.10" y="704.60" width="12.70" height="7.90" fill="#532463" stroke="#40164f" stroke-width="0.5"/>
<text x="439.20" y="711.20" font-size="9.8" textLength="65.46" lengthAdjust="spacingAndGlyphs">sh<tspan font-style="italic">IK</tspan>&#8211;&#945;-H3K4me3</text>
<text x="333.80" y="755.10" font-size="9.5" textLength="27.00" lengthAdjust="spacingAndGlyphs">Nalm6</text>
<text x="389.50" y="755.10" font-size="9.5" textLength="14.30" lengthAdjust="spacingAndGlyphs">697</text>
</svg>
</body></html>
